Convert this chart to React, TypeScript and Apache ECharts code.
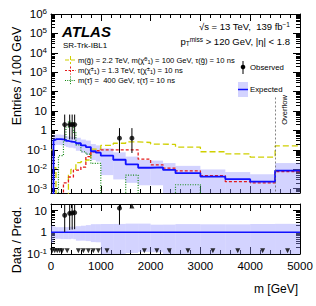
import React, { useEffect, useRef } from 'react';
import * as echarts from 'echarts';

const binEdges = [0, 50, 100, 150, 200, 250, 300, 350, 400, 450, 500, 600, 700, 800, 900, 1000, 1250, 1500, 1750, 2000, 2250, 2500, 3000, 3500, 4000, 4500, 5000];
const expected = [0.0003, 0.33, 0.36, 0.36, 0.35, 0.33, 0.29, 0.27, 0.26, 0.25, 0.22, 0.17, 0.14, 0.085, 0.072, 0.05, 0.031, 0.018, 0.012, 0.0125, 0.0093, 0.0063, 0.0042, 0.0031, 0.0023, 0.0086];
const expectedUp = [0.0006, 0.6, 0.62, 0.62, 0.6, 0.58, 0.5, 0.48, 0.47, 0.45, 0.42, 0.34, 0.3, 0.2, 0.17, 0.12, 0.075, 0.045, 0.03, 0.028, 0.021, 0.015, 0.0098, 0.0072, 0.0055, 0.021];
const expectedDown = [0.0001, 0.17, 0.18, 0.18, 0.17, 0.16, 0.14, 0.13, 0.13, 0.12, 0.09, 0.07, 0.055, 0.03, 0.025, 0.005, 0.003, 0.002, 0.0015, 0.0015, 0.0003, 0.0003, 0.0002, 0.0002, 0.0001, 0.0003];
const observedCounts = [0, 0, 0, 0, 0, 1, 0, 1, 1, 1, 0, 0, 0, 0, 0, 0, 1, 1, 0, 0, 0, 0, 0, 0, 0, 0];
const gluinoSignal = [0.1, 0.012, 0, 0, 0, 0, 0, 0.006, 0.01, 0.01, 0.022, 0.025, 0.03, 0.11, 0.11, 0.17, 0.22, 0.26, 0.24, 0.2, 0.19, 0.14, 0.08, 0.062, 0.042, 0.16];
const charginoSignal = [0, 0, 0, 0, 0, 0.002, 0.002, 0.004, 0.004, 0.009, 0.009, 0.013, 0.045, 0.08, 0.09, 0.1, 0.1, 0.1, 0.033, 0.017, 0.0115, 0.0083, 0.0047, 0.0023, 0.002, 0.0077];
const stauSignal = [0, 0, 0, 0.05, 0.05, 0.3, 1.5, 3, 2.5, 0.8, 0.18, 0.08, 0.06, 0.02, 0.02, 0, 0, 0.005, 0, 0, 0, 0.0016, 0, 0, 0, 0];
const poissonLow = [0, 0.173];
const poissonHigh = [1.841, 3.3];

const X_MIN = 0, X_MAX = 5000, X_STEP = 1000;
const Y_MIN = 6e-4, Y_MAX = 1e6;
const R_MIN = 0.1, R_MAX = 20;
const OVERFLOW_EDGE = 4500;
const OVERFLOW_LINE_TOP = 50;

const FONT = 'Liberation Sans';
const BLUE = '#1010ff';
const BAND = 'rgba(150,150,255,0.42)';
const YELLOW = '#cfcf00';
const RED = '#e41a1a';
const GREEN = '#118811';

const nBins = binEdges.length - 1;
const centers = Array.from({ length: nBins }, (_, i) => (binEdges[i] + binEdges[i + 1]) / 2);
const widths = Array.from({ length: nBins }, (_, i) => binEdges[i + 1] - binEdges[i]);
const perHundred = (c: number, i: number) => (c * 100) / widths[i];

const pos = (v: number) => (v > 0 ? v : 1e-9);
const stepData = (vals: number[]) => {
  const d: number[][] = vals.map((v, i) => [binEdges[i], pos(v)]);
  d.push([binEdges[nBins], pos(vals[nBins - 1])]);
  return d;
};
const clamp = (v: number, lo: number, hi: number) => Math.min(hi, Math.max(lo, v));

const powLabel = (v: number) => {
  const e = Math.log10(v);
  const n = Math.round(e);
  if (Math.abs(e - n) > 1e-6) return '';
  if (n === 0) return '1';
  if (n === 1) return '10';
  return '10{s|' + n + '}';
};

const lineAxisCommon = {
  axisLine: { show: true, onZero: false, lineStyle: { color: '#000', width: 1 } },
  splitLine: { show: false },
};

function makeXAxis(gridIndex: number, position: string, labels: boolean) {
  return {
    gridIndex, type: 'value', min: X_MIN, max: X_MAX, interval: X_STEP, position,
    ...lineAxisCommon,
    axisTick: { show: true, inside: true, length: 7, lineStyle: { color: '#000' } },
    minorTick: { show: true, splitNumber: 5, length: 4, lineStyle: { color: '#000' } },
    axisLabel: { show: labels, fontSize: 11.5, color: '#000', fontFamily: FONT, margin: 6, formatter: (v: number) => String(v) },
  };
}

function makeLogY(gridIndex: number, position: string, labels: boolean, min: number, max: number, split: number) {
  return {
    gridIndex, type: 'log', logBase: 10, min, max, splitNumber: split, position,
    ...lineAxisCommon,
    axisTick: { show: true, inside: true, length: 7, lineStyle: { color: '#000' } },
    minorTick: { show: true, splitNumber: 9, length: 4, lineStyle: { color: '#000' } },
    axisLabel: {
      show: labels, fontSize: 11.5, color: '#000', fontFamily: FONT, margin: 4,
      formatter: powLabel,
      rich: { s: { fontSize: 8, verticalAlign: 'top', fontFamily: FONT, color: '#000', padding: [0, 0, 5, 0] } },
    },
  };
}

const bandRender = (params: any, api: any) => {
  const p0 = api.coord([api.value(0), api.value(3)]);
  const p1 = api.coord([api.value(1), api.value(2)]);
  return { type: 'rect', shape: { x: p0[0], y: p0[1], width: p1[0] - p0[0], height: p1[1] - p0[1] }, style: { fill: BAND } };
};
const errRender = (params: any, api: any) => {
  const a = api.coord([api.value(0), api.value(2)]);
  const b = api.coord([api.value(0), api.value(1)]);
  return { type: 'line', shape: { x1: a[0], y1: a[1], x2: b[0], y2: b[1] }, style: { stroke: '#000', lineWidth: 1 } };
};

function buildOption() {
  const bandMain = expected.map((_, i) => [binEdges[i], binEdges[i + 1], clamp(expectedDown[i], Y_MIN, Y_MAX), clamp(expectedUp[i], Y_MIN, Y_MAX)]);
  const bandRatio = expected.map((e, i) => [binEdges[i], binEdges[i + 1], clamp(expectedDown[i] / e, R_MIN, R_MAX), clamp(expectedUp[i] / e, R_MIN, R_MAX)]);
  const obsPts: number[][] = [];
  const obsErr: number[][] = [];
  const ratioPts: number[][] = [];
  const ratioErr: number[][] = [];
  const ratioDown: number[][] = [];
  const ratioUp: number[][] = [];
  observedCounts.forEach((c, i) => {
    if (c > 0) {
      const v = perHundred(c, i);
      const lo = perHundred(poissonLow[c], i);
      const hi = perHundred(poissonHigh[c], i);
      obsPts.push([centers[i], v]);
      obsErr.push([centers[i], clamp(lo, Y_MIN, Y_MAX), clamp(hi, Y_MIN, Y_MAX)]);
      const r = v / expected[i];
      if (r > R_MAX) {
        ratioUp.push([centers[i], R_MAX * 0.8]);
      } else {
        ratioPts.push([centers[i], r]);
        ratioErr.push([centers[i], clamp(lo / expected[i], R_MIN, R_MAX), clamp(hi / expected[i], R_MIN, R_MAX)]);
      }
    } else {
      ratioDown.push([centers[i], R_MIN * 1.4]);
    }
  });

  const legendY = [60, 70.5, 80.5];
  const legendTexts = [
    'm(g\u0303) = 2.2 TeV, m(\u03c7\u0303{p|0}{b|1}) = 100 GeV, \u03c4(g\u0303) = 10 ns',
    'm(\u03c7\u0303{p|\u00b1}{b|1}) = 1.3 TeV, \u03c4(\u03c7\u0303{p|\u00b1}{b|1}) = 10 ns',
    'm(\u03c4\u0303) =  400 GeV, \u03c4(\u03c4\u0303) = 10 ns',
  ];
  const legendColors = [YELLOW, RED, GREEN];
  const legendDash: any[] = [[4, 2], [2, 1.5], [1, 1.2]];
  const smallRich = {
    p: { fontSize: 5.5, verticalAlign: 'top', fontFamily: FONT, fill: '#000', padding: [0, 0, 3, 0] },
    b: { fontSize: 5.5, verticalAlign: 'bottom', fontFamily: FONT, fill: '#000', padding: [3, 0, 0, 0] },
  };
  const headRich = {
    p: { fontSize: 6.5, verticalAlign: 'top', fontFamily: FONT, fill: '#000', padding: [0, 0, 4, 0] },
    b: { fontSize: 6.5, verticalAlign: 'bottom', fontFamily: FONT, fill: '#000', padding: [3, 0, 0, 0] },
  };

  const graphic: any[] = [
    { type: 'text', x: 62, y: 31, style: { text: 'ATLAS', fontSize: 15, fontWeight: 'bold', fontStyle: 'italic', fontFamily: FONT, fill: '#000', verticalAlign: 'middle' } },
    { type: 'text', x: 63, y: 45.5, style: { text: 'SR-Trk-IBL1', fontSize: 8, fontFamily: FONT, fill: '#000', verticalAlign: 'middle' } },
    { type: 'text', x: 290, y: 26, style: { text: '\u221as = 13 TeV,  139 fb{p|\u22121}', fontSize: 9.5, fontFamily: FONT, fill: '#000', align: 'right', verticalAlign: 'middle', rich: headRich } },
    { type: 'text', x: 290, y: 41, style: { text: 'p{b|T}{p|miss} > 120 GeV, |\u03b7| < 1.8', fontSize: 9.5, fontFamily: FONT, fill: '#000', align: 'right', verticalAlign: 'middle', rich: headRich } },
    { type: 'text', x: 17, y: 76, rotation: Math.PI / 2, style: { text: 'Entries / 100 GeV', fontSize: 12.5, fontFamily: FONT, fill: '#000', align: 'center', verticalAlign: 'middle' } },
    { type: 'text', x: 17, y: 240, rotation: Math.PI / 2, style: { text: 'Data / Pred.', fontSize: 12.5, fontFamily: FONT, fill: '#000', align: 'center', verticalAlign: 'middle' } },
    { type: 'text', x: 298, y: 289, style: { text: 'm [GeV]', fontSize: 12, fontFamily: FONT, fill: '#000', align: 'right', verticalAlign: 'middle' } },
    { type: 'text', x: 284, y: 110, rotation: Math.PI / 2, style: { text: 'Overflow', fontSize: 7.5, fontFamily: FONT, fill: '#000', align: 'center', verticalAlign: 'middle' } },
    // observed legend
    { type: 'line', shape: { x1: 243, y1: 61, x2: 243, y2: 74 }, style: { stroke: '#000', lineWidth: 1 } },
    { type: 'circle', shape: { cx: 243, cy: 67, r: 2.3 }, style: { fill: '#000' } },
    { type: 'text', x: 250, y: 67.5, style: { text: 'Observed', fontSize: 7.8, fontFamily: FONT, fill: '#000', verticalAlign: 'middle' } },
    // expected legend
    { type: 'rect', shape: { x: 238, y: 82, width: 10, height: 15 }, style: { fill: BAND } },
    { type: 'line', shape: { x1: 238, y1: 89.5, x2: 248, y2: 89.5 }, style: { stroke: BLUE, lineWidth: 1.5 } },
    { type: 'text', x: 250, y: 89.5, style: { text: 'Expected', fontSize: 7.8, fontFamily: FONT, fill: '#000', verticalAlign: 'middle' } },
  ];
  legendY.forEach((y, i) => {
    graphic.push({ type: 'line', shape: { x1: 65, y1: y, x2: 76, y2: y }, style: { stroke: legendColors[i], lineWidth: 1.2, lineDash: legendDash[i] } });
    graphic.push({ type: 'line', shape: { x1: 70.5, y1: y - 4, x2: 70.5, y2: y + 4 }, style: { stroke: legendColors[i], lineWidth: 1, lineDash: legendDash[i] } });
    graphic.push({ type: 'text', x: 78, y, style: { text: legendTexts[i], fontSize: 7.6, fontFamily: FONT, fill: '#000', verticalAlign: 'middle', rich: smallRich } });
  });

  const stepLine = (name: string, vals: number[], color: string, width: number, type: any, z: number) => ({
    name, type: 'line', xAxisIndex: 0, yAxisIndex: 0, data: stepData(vals), step: 'end', symbol: 'none', z,
    lineStyle: { color, width, type }, clip: true,
  });

  return {
    animation: false,
    textStyle: { fontFamily: FONT },
    grid: [
      { left: 51, top: 14, width: 249, height: 179, containLabel: false, outerBoundsMode: 'none' },
      { left: 51, top: 204, width: 249, height: 50, containLabel: false, outerBoundsMode: 'none' },
    ],
    xAxis: [makeXAxis(0, 'bottom', false), makeXAxis(0, 'top', false), makeXAxis(1, 'bottom', true), makeXAxis(1, 'top', false)],
    yAxis: [
      makeLogY(0, 'left', true, Y_MIN, Y_MAX, 10), makeLogY(0, 'right', false, Y_MIN, Y_MAX, 10),
      makeLogY(1, 'left', true, R_MIN, R_MAX, 3), makeLogY(1, 'right', false, R_MIN, R_MAX, 3),
    ],
    graphic,
    series: [
      { type: 'custom', xAxisIndex: 0, yAxisIndex: 0, renderItem: bandRender, data: bandMain, encode: { x: [0, 1], y: [2, 3] }, z: 1, silent: true },
      stepLine('gluino', gluinoSignal, YELLOW, 1.3, [6, 3], 3),
      stepLine('chargino', charginoSignal, RED, 1.3, [3, 2], 3),
      stepLine('stau', stauSignal, GREEN, 1.2, [1, 1.5], 3),
      {
        ...stepLine('expected', expected, BLUE, 1.8, 'solid', 4),
        markLine: {
          symbol: 'none', silent: true, label: { show: false },
          lineStyle: { type: [2, 2], color: '#666', width: 0.8 },
          data: [[{ coord: [OVERFLOW_EDGE, OVERFLOW_LINE_TOP] }, { coord: [OVERFLOW_EDGE, Y_MIN] }]],
        },
      },
      { type: 'custom', xAxisIndex: 0, yAxisIndex: 0, renderItem: errRender, data: obsErr, encode: { x: 0, y: [1, 2] }, z: 5 },
      { type: 'scatter', xAxisIndex: 0, yAxisIndex: 0, data: obsPts, symbol: 'circle', symbolSize: 5, itemStyle: { color: '#000' }, z: 6 },
      // ratio panel
      { type: 'custom', xAxisIndex: 2, yAxisIndex: 2, renderItem: bandRender, data: bandRatio, encode: { x: [0, 1], y: [2, 3] }, z: 1, silent: true },
      { type: 'line', xAxisIndex: 2, yAxisIndex: 2, data: [[X_MIN, 1], [X_MAX, 1]], symbol: 'none', lineStyle: { color: BLUE, width: 1.3 }, z: 3 },
      { type: 'custom', xAxisIndex: 2, yAxisIndex: 2, renderItem: errRender, data: ratioErr, encode: { x: 0, y: [1, 2] }, z: 5 },
      { type: 'scatter', xAxisIndex: 2, yAxisIndex: 2, data: ratioPts, symbol: 'circle', symbolSize: 5, itemStyle: { color: '#000' }, z: 6 },
      { type: 'scatter', xAxisIndex: 2, yAxisIndex: 2, data: ratioDown, symbol: 'triangle', symbolRotate: 180, symbolSize: 5, itemStyle: { color: '#000' }, z: 6 },
      { type: 'scatter', xAxisIndex: 2, yAxisIndex: 2, data: ratioUp, symbol: 'triangle', symbolSize: 5, itemStyle: { color: '#000' }, z: 6 },
    ],
  };
}

export default function App() {
  const ref = useRef<HTMLDivElement>(null);
  useEffect(() => {
    if (!ref.current) return;
    const chart = echarts.init(ref.current, undefined, { renderer: 'svg' });
    chart.setOption(buildOption() as any);
    return () => chart.dispose();
  }, []);
  return <div ref={ref} style={{ position: 'absolute', left: 0, top: 0, width: 316, height: 306, background: '#fff' }} />;
}
